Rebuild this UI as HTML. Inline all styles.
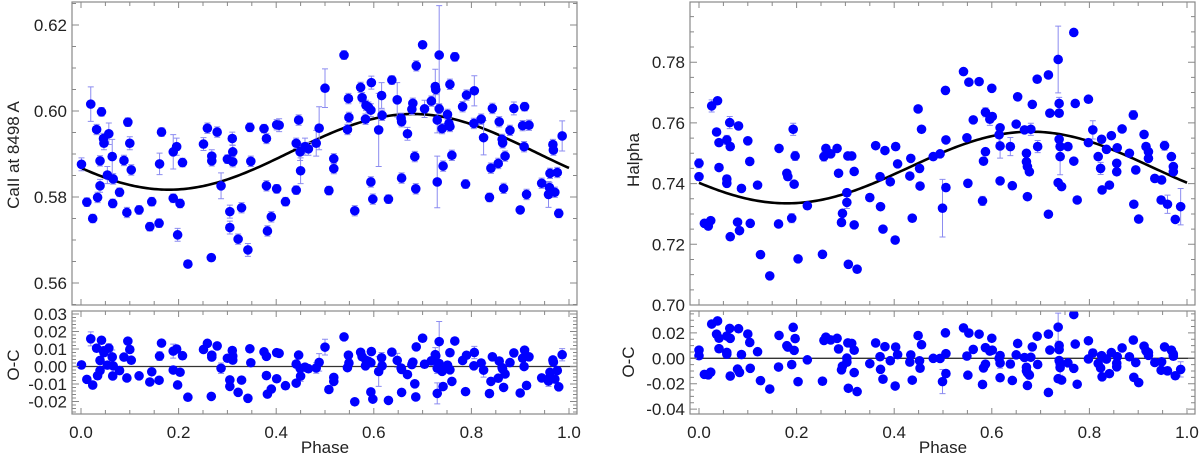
<!DOCTYPE html>
<html><head><meta charset="utf-8">
<style>
html,body{margin:0;padding:0;background:#fff;}
svg{display:block;font-family:"Liberation Sans",sans-serif;}
</style></head>
<body>
<svg id="chart" width="1200" height="456" viewBox="0 0 1200 456" xmlns="http://www.w3.org/2000/svg"></svg>
<script>
// ---- Left panel data (CaII at 8498 A) ----
const phaseL = [0.001,0.020,0.012,0.024,0.032,0.039,0.034,0.039,0.042,0.046,0.047,0.057,0.054,0.064,0.066,0.065,0.079,0.088,0.094,0.096,0.100,0.103,0.119,0.141,0.145,0.160,0.165,0.161,0.189,0.196,0.189,0.203,0.198,0.208,0.219,0.251,0.259,0.268,0.268,0.267,0.279,0.287,0.300,0.310,0.311,0.311,0.305,0.305,0.322,0.329,0.342,0.346,0.348,0.375,0.380,0.380,0.382,0.390,0.401,0.406,0.401,0.419,0.441,0.441,0.449,0.450,0.446,0.459,0.466,0.482,0.488,0.500,0.508,0.518,0.518,0.539,0.546,0.548,0.549,0.561,0.573,0.576,0.584,0.583,0.589,0.594,0.595,0.594,0.598,0.610,0.616,0.617,0.630,0.637,0.648,0.656,0.657,0.657,0.669,0.680,0.678,0.684,0.686,0.687,0.700,0.704,0.718,0.726,0.727,0.730,0.730,0.734,0.734,0.740,0.742,0.751,0.754,0.756,0.756,0.760,0.766,0.782,0.788,0.790,0.805,0.806,0.820,0.825,0.837,0.840,0.843,0.855,0.857,0.863,0.864,0.866,0.869,0.879,0.887,0.900,0.905,0.909,0.908,0.913,0.918,0.944,0.960,0.958,0.961,0.967,0.968,0.971,0.976,0.979,0.986];
const valueL = [0.5876,0.6016,0.5788,0.5750,0.5957,0.5884,0.5799,0.5826,0.5998,0.5936,0.5925,0.5947,0.5851,0.5894,0.5842,0.5785,0.5811,0.5885,0.5764,0.5974,0.5925,0.5863,0.5770,0.5731,0.5789,0.5739,0.5951,0.5877,0.5905,0.5917,0.5797,0.5785,0.5712,0.5880,0.5644,0.5923,0.5960,0.5895,0.5884,0.5659,0.5951,0.5826,0.5888,0.5936,0.5905,0.5882,0.5766,0.5729,0.5702,0.5775,0.5677,0.5962,0.5883,0.5959,0.5936,0.5826,0.5721,0.5754,0.5968,0.5967,0.5819,0.5789,0.5816,0.5925,0.5905,0.5861,0.5979,0.5917,0.5912,0.5925,0.5960,0.6053,0.5815,0.5889,0.5866,0.6130,0.5957,0.6029,0.5985,0.5768,0.6055,0.6031,0.6013,0.5981,0.6009,0.6002,0.6066,0.5835,0.5795,0.5956,0.6036,0.5990,0.5795,0.6072,0.6026,0.5983,0.5975,0.5844,0.5947,0.6018,0.6004,0.5894,0.5819,0.6105,0.6154,0.6005,0.6023,0.6057,0.6050,0.5979,0.5835,0.6130,0.6005,0.5959,0.5872,0.5992,0.5971,0.5964,0.6062,0.5897,0.6126,0.6010,0.5830,0.6037,0.5971,0.6047,0.5981,0.5938,0.5799,0.5867,0.6006,0.5878,0.5975,0.5934,0.5926,0.5820,0.5895,0.5955,0.6006,0.5770,0.5966,0.6010,0.5917,0.5806,0.5967,0.5832,0.5822,0.5806,0.5855,0.5922,0.5909,0.5811,0.5857,0.5762,0.5942];
const errL = [0.0015,0.0040,0.0010,0.0010,0.0012,0.0012,0.0012,0.0015,0.0010,0.0012,0.0015,0.0025,0.0020,0.0040,0.0012,0.0010,0.0010,0.0012,0.0012,0.0010,0.0015,0.0012,0.0010,0.0010,0.0010,0.0010,0.0010,0.0025,0.0040,0.0020,0.0010,0.0010,0.0015,0.0010,0.0008,0.0015,0.0012,0.0015,0.0012,0.0008,0.0012,0.0030,0.0010,0.0015,0.0015,0.0012,0.0015,0.0015,0.0012,0.0012,0.0015,0.0010,0.0012,0.0010,0.0012,0.0012,0.0012,0.0012,0.0012,0.0015,0.0010,0.0010,0.0010,0.0012,0.0020,0.0030,0.0012,0.0020,0.0015,0.0030,0.0050,0.0045,0.0010,0.0012,0.0012,0.0010,0.0012,0.0012,0.0012,0.0012,0.0012,0.0012,0.0012,0.0012,0.0012,0.0015,0.0015,0.0012,0.0012,0.0085,0.0030,0.0012,0.0010,0.0010,0.0040,0.0012,0.0012,0.0012,0.0015,0.0012,0.0012,0.0012,0.0012,0.0012,0.0008,0.0020,0.0012,0.0040,0.0012,0.0030,0.0060,0.0115,0.0012,0.0012,0.0012,0.0012,0.0012,0.0012,0.0012,0.0012,0.0010,0.0012,0.0010,0.0012,0.0012,0.0035,0.0012,0.0040,0.0010,0.0012,0.0012,0.0012,0.0012,0.0012,0.0012,0.0012,0.0012,0.0012,0.0015,0.0008,0.0012,0.0010,0.0012,0.0012,0.0012,0.0012,0.0012,0.0030,0.0012,0.0012,0.0012,0.0012,0.0012,0.0010,0.0035];
const fitL = [0.5905, 0.0088, 0.18]; // mean, amplitude, phase of minimum

// ---- Right panel data (Halpha) ----
const phaseR = [0.000,0.000,0.011,0.019,0.024,0.026,0.038,0.036,0.041,0.041,0.057,0.057,0.057,0.063,0.064,0.064,0.081,0.087,0.079,0.083,0.100,0.104,0.105,0.120,0.126,0.145,0.164,0.163,0.180,0.182,0.193,0.197,0.195,0.190,0.203,0.222,0.253,0.256,0.260,0.270,0.283,0.286,0.294,0.292,0.303,0.303,0.305,0.313,0.318,0.318,0.306,0.324,0.350,0.362,0.371,0.372,0.377,0.381,0.392,0.402,0.403,0.407,0.432,0.434,0.437,0.449,0.452,0.456,0.453,0.480,0.494,0.499,0.505,0.506,0.506,0.542,0.549,0.551,0.553,0.562,0.574,0.581,0.583,0.587,0.587,0.596,0.601,0.600,0.615,0.617,0.617,0.617,0.638,0.642,0.650,0.653,0.667,0.671,0.671,0.673,0.677,0.673,0.680,0.683,0.693,0.694,0.716,0.716,0.719,0.736,0.738,0.738,0.738,0.740,0.740,0.736,0.743,0.756,0.768,0.768,0.771,0.775,0.798,0.798,0.807,0.818,0.823,0.825,0.826,0.835,0.841,0.845,0.856,0.856,0.857,0.867,0.882,0.890,0.891,0.895,0.901,0.912,0.916,0.921,0.921,0.934,0.948,0.947,0.954,0.960,0.968,0.972,0.972,0.976,0.987];
const valueR = [0.7467,0.7423,0.7269,0.7260,0.7278,0.7656,0.7673,0.7570,0.7535,0.7453,0.7544,0.7415,0.7401,0.7601,0.7522,0.7225,0.7590,0.7384,0.7273,0.7245,0.7541,0.7473,0.7269,0.7395,0.7166,0.7096,0.7516,0.7267,0.7434,0.7423,0.7579,0.7491,0.7398,0.7286,0.7152,0.7327,0.7167,0.7489,0.7516,0.7498,0.7516,0.7434,0.7302,0.7272,0.7370,0.7338,0.7491,0.7491,0.7440,0.7264,0.7134,0.7118,0.7354,0.7525,0.7423,0.7324,0.7250,0.7509,0.7406,0.7214,0.7522,0.7465,0.7425,0.7483,0.7286,0.7646,0.7450,0.7579,0.7392,0.7489,0.7498,0.7319,0.7707,0.7544,0.7387,0.7769,0.7551,0.7401,0.7734,0.7610,0.7736,0.7343,0.7474,0.7505,0.7635,0.7612,0.7621,0.7714,0.7561,0.7584,0.7524,0.7409,0.7522,0.7393,0.7596,0.7686,0.7577,0.7500,0.7472,0.7456,0.7439,0.7357,0.7579,0.7661,0.7744,0.7522,0.7758,0.7299,0.7632,0.7809,0.7664,0.7632,0.7546,0.7522,0.7489,0.7403,0.7390,0.7522,0.7898,0.7474,0.7664,0.7346,0.7678,0.7535,0.7577,0.7489,0.7450,0.7546,0.7379,0.7513,0.7395,0.7558,0.7467,0.7439,0.7518,0.7580,0.7500,0.7626,0.7332,0.7445,0.7283,0.7562,0.7522,0.7505,0.7483,0.7417,0.7412,0.7346,0.7525,0.7332,0.7489,0.7456,0.7439,0.7282,0.7324];
const errR = [0.0015,0.0012,0.0010,0.0010,0.0010,0.0020,0.0010,0.0010,0.0010,0.0010,0.0015,0.0012,0.0012,0.0020,0.0012,0.0010,0.0010,0.0010,0.0010,0.0010,0.0010,0.0010,0.0010,0.0010,0.0008,0.0008,0.0010,0.0010,0.0010,0.0012,0.0020,0.0015,0.0010,0.0015,0.0008,0.0010,0.0008,0.0015,0.0010,0.0010,0.0010,0.0010,0.0010,0.0012,0.0010,0.0020,0.0010,0.0010,0.0010,0.0010,0.0008,0.0008,0.0010,0.0010,0.0010,0.0010,0.0010,0.0010,0.0010,0.0010,0.0010,0.0010,0.0010,0.0010,0.0010,0.0010,0.0010,0.0010,0.0010,0.0010,0.0010,0.0095,0.0010,0.0010,0.0010,0.0010,0.0010,0.0010,0.0010,0.0010,0.0010,0.0015,0.0012,0.0010,0.0015,0.0020,0.0010,0.0010,0.0025,0.0010,0.0040,0.0010,0.0030,0.0010,0.0010,0.0010,0.0010,0.0010,0.0010,0.0010,0.0010,0.0010,0.0020,0.0010,0.0010,0.0020,0.0010,0.0010,0.0010,0.0110,0.0020,0.0010,0.0010,0.0010,0.0060,0.0010,0.0010,0.0010,0.0010,0.0010,0.0010,0.0010,0.0010,0.0010,0.0030,0.0010,0.0020,0.0010,0.0010,0.0010,0.0010,0.0010,0.0010,0.0010,0.0010,0.0010,0.0010,0.0015,0.0010,0.0010,0.0010,0.0010,0.0010,0.0010,0.0010,0.0010,0.0010,0.0010,0.0015,0.0030,0.0010,0.0010,0.0010,0.0010,0.0060,0.0010];
const fitR = [0.7453, 0.0118, 0.18];

const xTickLabels = ["0.0","0.2","0.4","0.6","0.8","1.0"];
const yTicksMainL = ["0.56","0.58","0.60","0.62"];
const yTicksResL = ["-0.02","-0.01","0.00","0.01","0.02","0.03"];
const yTicksMainR = ["0.70","0.72","0.74","0.76","0.78"];
const yTicksResR = ["-0.04","-0.02","0.00","0.02"];

const NS = "http://www.w3.org/2000/svg";
const svg = document.getElementById('chart');
function mk(tag, attrs, parent){
  const e = document.createElementNS(NS, tag);
  for (const k in attrs) e.setAttribute(k, attrs[k]);
  (parent||svg).appendChild(e);
  return e;
}
function model(fit, p){ return fit[0] - fit[1]*Math.cos(2*Math.PI*(p - fit[2])); }

function drawPanel(cfg){
  const g = mk('g', {});
  
  
  const sx = p => cfg.px0 + (p)*(cfg.px1 - cfg.px0);
  const sy = v => cfg.yRef + (cfg.vRef - v)*cfg.scale;
  const vTop = cfg.vRef + (cfg.yRef - cfg.top)/cfg.scale;
  const vBot = cfg.vRef - (cfg.bottom - cfg.yRef)/cfg.scale;
  const clipId = 'clip-' + cfg.name;
  const cp = mk('clipPath', {id: clipId}, g);
  mk('rect', {x: cfg.left, y: cfg.top, width: cfg.right-cfg.left, height: cfg.bottom-cfg.top}, cp);
  const data = mk('g', {'clip-path': 'url(#'+clipId+')'}, g);
  // zero line or fit
  if (cfg.resid){
    const zl = mk('line', {x1: cfg.left, x2: cfg.right, y1: sy(0), y2: sy(0), stroke: '#333', 'stroke-width': 1.3}, data);
    
    
  } else {
    let d = '';
    for (let i=0;i<=200;i++){ const p=i/200; d += (i?'L':'M') + sx(p).toFixed(2) + ',' + sy(model(cfg.fit,p)).toFixed(2); }
    const fl = mk('path', {d: d, fill: 'none', stroke: '#000', 'stroke-width': 2.6}, data);
    
    
  }
  for (let i=0;i<cfg.ph.length;i++){
    const p = cfg.ph[i];
    const v = cfg.resid ? cfg.val[i] - model(cfg.fit, p) : cfg.val[i];
    const e = cfg.err[i];
    const x = sx(p), y = sy(v), y1 = sy(v+e), y2 = sy(v-e);
    const eb = mk('path', {d: `M${x},${y1}V${y2}M${x-3},${y1}H${x+3}M${x-3},${y2}H${x+3}`, stroke: '#8c8cf0', 'stroke-width': 1, fill: 'none'}, data);
    
    
  }
  for (let i=0;i<cfg.ph.length;i++){
    const p = cfg.ph[i];
    const v = cfg.resid ? cfg.val[i] - model(cfg.fit, p) : cfg.val[i];
    const c = mk('circle', {cx: sx(p), cy: sy(v), r: 4.8, fill: '#0000ff'}, data);
    
    
  }
  // frame
  const fr = mk('rect', {x: cfg.left, y: cfg.top, width: cfg.right-cfg.left, height: cfg.bottom-cfg.top, fill: 'none', stroke: '#888', 'stroke-width': 1.2}, g);
  
  
  // x ticks
  let td = '';
  for (let k=0;k<=20;k++){
    const p = k*0.05; const x = sx(p); const len = (k%4===0)?6:4;
    td += `M${x},${cfg.bottom}v${-len}M${x},${cfg.top}v${len}`;
  }
  // y ticks
  const major = cfg.yMajor, minor = cfg.yMajor/cfg.yMinorN;
  const start = Math.ceil(vBot/minor - 1e-6);
  const end = Math.floor(vTop/minor + 1e-6);
  for (let k=start;k<=end;k++){
    const v = k*minor; const y = sy(v);
    const isMaj = Math.abs(v/major - Math.round(v/major)) < 1e-6;
    const len = isMaj?7:4;
    td += `M${cfg.left},${y}h${len}M${cfg.right},${y}h${-len}`;
  }
  const tk = mk('path', {d: td, stroke: '#888', 'stroke-width': 1, fill: 'none'}, g);
  
  
  // y labels
  cfg.yLabels.forEach(s => {
    const t = mk('text', {x: cfg.left-5, y: sy(parseFloat(s))+6, 'text-anchor': 'end', 'font-size': 17, fill: '#222'}, g);
    t.textContent = s;
    
    
  });
  if (cfg.xLabels){
    cfg.xLabels.forEach(s => {
      const t = mk('text', {x: sx(parseFloat(s)), y: 438, 'text-anchor': 'middle', 'font-size': 17, fill: '#222'}, g);
      t.textContent = s;
      
      
    });
    const xt = mk('text', {x: (sx(0)+sx(1))/2 + 0, y: 453, 'text-anchor': 'middle', 'font-size': 17, fill: '#222'}, g);
    xt.textContent = 'Phase';
    
    
  }
  const yt = mk('text', {x: cfg.titleX, y: cfg.titleY, 'text-anchor': 'middle', 'font-size': 17, fill: '#222', transform: `rotate(-90 ${cfg.titleX} ${cfg.titleY})`}, g);
  yt.textContent = cfg.title;
  
  
}

drawPanel({name:'cail-main-panel', left:72, right:577, top:2, bottom:305, px0:81, px1:569, vRef:0.60, yRef:111, scale:4300,
  yMajor:0.02, yMinorN:4, yLabels:yTicksMainL, ph:phaseL, val:valueL, err:errL, fit:fitL, resid:false,
  title:'CaII at 8498 A', titleX:19, titleY:155});
drawPanel({name:'cail-residual-panel', left:72, right:577, top:311, bottom:414, px0:81, px1:569, vRef:0.0, yRef:366.5, scale:1750,
  yMajor:0.01, yMinorN:5, yLabels:yTicksResL, ph:phaseL, val:valueL, err:errL, fit:fitL, resid:true, xLabels:xTickLabels,
  title:'O-C', titleX:19, titleY:365});
drawPanel({name:'halpha-main-panel', left:690, right:1195, top:2, bottom:305, px0:699, px1:1187, vRef:0.70, yRef:305, scale:3035,
  yMajor:0.02, yMinorN:4, yLabels:yTicksMainR, ph:phaseR, val:valueR, err:errR, fit:fitR, resid:false,
  title:'Halpha', titleX:639, titleY:160});
drawPanel({name:'halpha-residual-panel', left:690, right:1195, top:311, bottom:414, px0:699, px1:1187, vRef:0.0, yRef:358.3, scale:1270,
  yMajor:0.02, yMinorN:4, yLabels:yTicksResR, ph:phaseR, val:valueR, err:errR, fit:fitR, resid:true, xLabels:xTickLabels,
  title:'O-C', titleX:634, titleY:362});
</script>
</body></html>
